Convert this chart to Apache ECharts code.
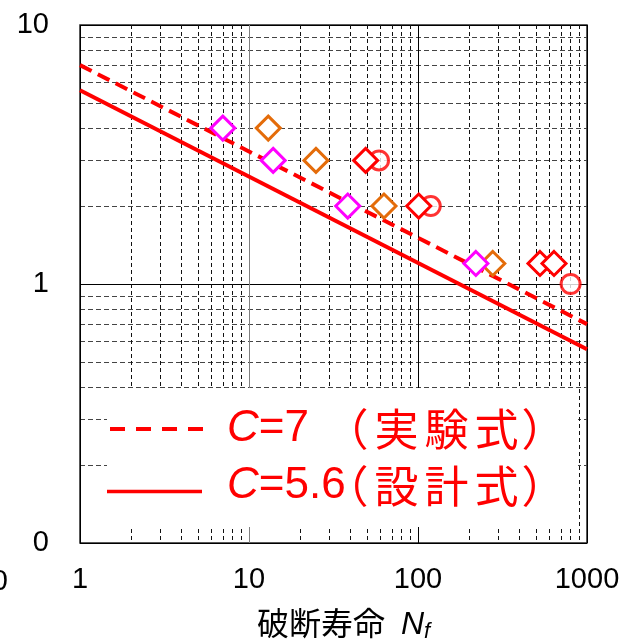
<!DOCTYPE html>
<html>
<head>
<meta charset="utf-8">
<script src="https://cdn.jsdelivr.net/npm/echarts@6/dist/echarts.min.js"></script>
<style>html,body{margin:0;padding:0;background:#fff;}#c{width:627px;height:644px;}</style>
</head>
<body>
<div id="c"></div>
<script>
// ---- data ----
const magentaN = [7.0, 13.9, 38.4, 220];
const magentaS = [4, 3, 2, 1.2];
const orangeN = [13.0, 24.9, 62.9, 277];
const orangeS = [4, 3, 2, 1.2];
const redDiamondN = [49, 101, 527, 638];
const redDiamondS = [3, 2, 1.2, 1.2];
const redCircleN = [58.8, 119, 800];
const redCircleS = [3, 2, 1];
const lineNrange = [1, 1000];
const lineC7 = [7, 0.7];
const lineC56 = [5.6, 0.56];
const legendLatin = ['{i|C}=7', '{i|C}=5.6'];
const legendCJK = ['{k|（}{k|実}{k|験}{k|式}{r|）}', '{k|（}{k|設}{k|計}{k|式}{r|）}'];
const xAxisTitle = '破断寿命{i|N}{s|f}';

const zip = (a, b) => a.map((v, i) => [v, b[i]]);
const LAT = '"Liberation Sans", Arial, "Noto Sans CJK JP", sans-serif';
const CJK = '"Noto Sans CJK JP", sans-serif';

const chart = echarts.init(document.getElementById('c'), null, {renderer: 'canvas'});
const diamond = (name, xs, ys, color, z) => ({
  name, type: 'scatter', data: zip(xs, ys), symbol: 'diamond', symbolSize: 24, z,
  itemStyle: {color: '#fff', borderColor: color, borderWidth: 3, opacity: 1},
  emphasis: {disabled: true}
});
const latinText = (txt, y) => ({type: 'text', z: 101, x: 227, y, style: {text: txt, fill: '#ff0000', fontSize: 44,
  fontFamily: LAT, verticalAlign: 'middle', align: 'left',
  rich: {i: {fontStyle: 'italic', fontSize: 44, fontFamily: LAT, fill: '#ff0000'}}}});
const cjkText = (txt, y) => ({type: 'text', z: 101, x: 321.5, y, style: {text: txt, fill: '#ff0000', fontSize: 44,
  fontFamily: CJK, verticalAlign: 'middle', align: 'left',
  rich: {
    k: {fontSize: 44, fontFamily: CJK, fill: '#ff0000', width: 50, align: 'center'},
    r: {fontSize: 44, fontFamily: CJK, fill: '#ff0000', width: 44, align: 'center'}
  }}});

chart.setOption({
  animation: false,
  backgroundColor: '#fff',
  grid: {left: 80, right: 40, top: 25, bottom: 101, show: true, borderColor: '#222', borderWidth: 1.5, backgroundColor: 'transparent'},
  xAxis: {
    type: 'log', logBase: 10, min: 1, max: 1000,
    axisLine: {show: false}, axisTick: {show: false},
    axisLabel: {fontSize: 29, color: '#000', fontFamily: LAT, margin: 22, showMinLabel: true, showMaxLabel: true,
      formatter: v => String(Math.round(v))},
    splitLine: {show: true, lineStyle: {color: ['#000', '#808080', '#000', '#000'], width: 1, type: 'solid'}},
    minorTick: {show: false, splitNumber: 9},
    minorSplitLine: {show: true, lineStyle: {color: '#111', width: 1, type: [4, 3]}}
  },
  yAxis: {
    type: 'log', logBase: 10, min: 0.1, max: 10,
    axisLine: {show: false}, axisTick: {show: false},
    axisLabel: {fontSize: 29, color: '#000', fontFamily: LAT, margin: 31, showMinLabel: true, showMaxLabel: true,
      formatter: v => String(Math.round(v))},
    splitLine: {show: true, lineStyle: {color: '#000', width: 1, type: 'solid'}},
    minorTick: {show: false, splitNumber: 9},
    minorSplitLine: {show: true, lineStyle: {color: '#444', width: 1, type: [5, 3]}}
  },
  series: [
    {name: 'C=7', type: 'line', data: zip(lineNrange, lineC7), symbol: 'none', z: 3,
      lineStyle: {color: '#ff0000', width: 4, type: [13, 7]}},
    {name: 'C=5.6', type: 'line', data: zip(lineNrange, lineC56), symbol: 'none', z: 3,
      lineStyle: {color: '#ff0000', width: 4, type: 'solid'}},
    {name: 'circle', type: 'scatter', data: zip(redCircleN, redCircleS), symbol: 'circle', symbolSize: 19, z: 4,
      itemStyle: {color: '#fff', borderColor: '#ff0000', borderWidth: 3}},
    diamond('red', redDiamondN, redDiamondS, '#ff0000', 5),
    diamond('orange', orangeN, orangeS, '#e46c0a', 5),
    diamond('magenta', magentaN, magentaS, '#ff00ff', 6)
  ],
  graphic: [
    {type: 'rect', z: 100, shape: {x: 107, y: 388, width: 471, height: 139}, style: {fill: '#fff'}},
    {type: 'line', z: 101, shape: {x1: 110, y1: 429, x2: 204, y2: 429},
      style: {stroke: '#ff0000', lineWidth: 4, lineDash: [15, 11]}},
    {type: 'line', z: 101, shape: {x1: 107, y1: 491.5, x2: 202, y2: 491.5},
      style: {stroke: '#ff0000', lineWidth: 3.5}},
    latinText(legendLatin[0], 429),
    latinText(legendLatin[1], 486),
    cjkText(legendCJK[0], 429),
    cjkText(legendCJK[1], 486),
    {type: 'text', z: 101, x: 8, y: 582, style: {text: '0', fill: '#000', fontSize: 29, fontFamily: LAT,
      align: 'right', verticalAlign: 'middle'}},
    {type: 'text', z: 101, x: 257, y: 609, style: {text: xAxisTitle, fill: '#000', fontSize: 32, fontFamily: LAT,
      align: 'left', verticalAlign: 'top',
      rich: {
        i: {fontStyle: 'italic', fontSize: 32, fontFamily: LAT, fill: '#000', verticalAlign: 'top', padding: [0, 0, 0, 16]},
        s: {fontStyle: 'italic', fontSize: 22, fontFamily: LAT, fill: '#000', verticalAlign: 'top', padding: [12, 0, 0, 0]}
      }}}
  ]
});
</script>
</body>
</html>
